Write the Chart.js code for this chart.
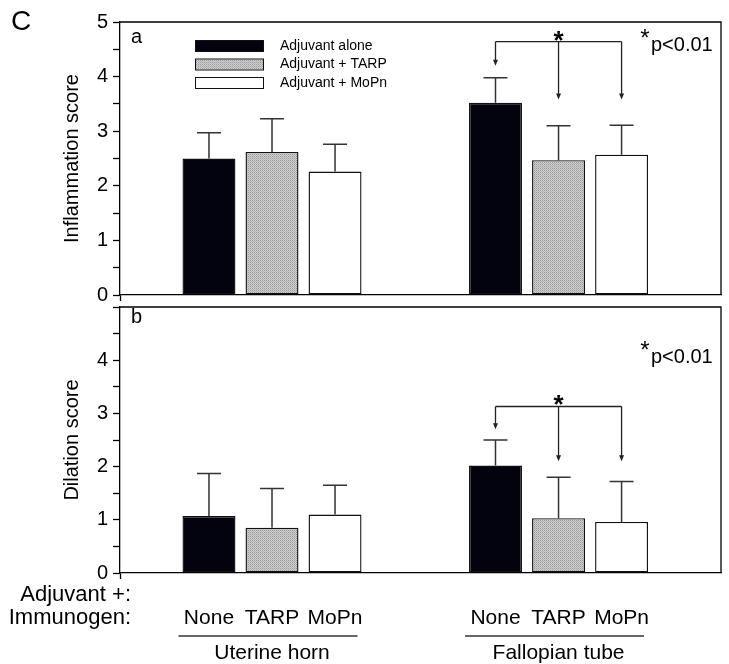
<!DOCTYPE html>
<html>
<head>
<meta charset="utf-8">
<script src="https://cdn.jsdelivr.net/npm/chart.js@4"></script>
<style>
  body { margin: 0; background: #fff; }
  #wrap { position: relative; width: 729px; height: 664px; }
  canvas { position: absolute; left: 0; }
  #topChart { top: 0; }
  #bottomChart { top: 290px; }
</style>
</head>
<body>
<div id="wrap">
  <canvas id="topChart" width="729" height="312"></canvas>
  <canvas id="bottomChart" width="729" height="374"></canvas>
</div>
<script>
const categories = ["Uterine horn", "Fallopian tube"];
const immunogens = ["None", "TARP", "MoPn"];
const seriesLabels = ["Adjuvant alone", "Adjuvant + TARP", "Adjuvant + MoPn"];

// panel a: inflammation score (mean, upper SD)
const inflamNone = [2.50, 3.52];
const inflamTarp = [2.62, 2.47];
const inflamMopn = [2.26, 2.57];
const inflamNoneErr = [0.47, 0.46];
const inflamTarpErr = [0.61, 0.63];
const inflamMopnErr = [0.50, 0.54];

// panel b: dilation score
const dilNone = [1.07, 2.02];
const dilTarp = [0.85, 1.03];
const dilMopn = [1.10, 0.96];
const dilNoneErr = [0.80, 0.48];
const dilTarpErr = [0.74, 0.77];
const dilMopnErr = [0.55, 0.76];

const yTicks = [0, 1, 2, 3, 4, 5];
const pText = "p<0.01";

// bracket for the Fallopian tube comparison: [bracket, first arrow tip, other tips]
const sigTop = [4.64, 4.20, 3.58];
const sigBottom = [3.13, 2.70, 2.10];

const FONT = "'Liberation Sans', Arial, Helvetica, sans-serif";

function hatch() {
  const c = document.createElement("canvas");
  c.width = 2; c.height = 2;
  const g = c.getContext("2d");
  g.fillStyle = "#cfcfcf";
  g.fillRect(0, 0, 2, 2);
  g.fillStyle = "#9a9a9a";
  g.fillRect(0, 0, 1, 1);
  g.fillStyle = "#b4b4b4";
  g.fillRect(1, 1, 1, 1);
  return g.createPattern(c, "repeat");
}
const fills = ["#03030f", hatch(), "#ffffff"];

const errorBars = {
  id: "errorBars",
  afterDatasetsDraw(chart) {
    const ctx = chart.ctx, y = chart.scales.y;
    ctx.save();
    ctx.strokeStyle = "#333";
    ctx.lineWidth = 1.5;
    chart.data.datasets.forEach((ds, k) => {
      chart.getDatasetMeta(k).data.forEach((bar, i) => {
        const top = y.getPixelForValue(ds.data[i].y + ds.errors[i]);
        ctx.beginPath();
        ctx.moveTo(bar.x, bar.y);
        ctx.lineTo(bar.x, top);
        ctx.moveTo(bar.x - 12, top);
        ctx.lineTo(bar.x + 12, top);
        ctx.stroke();
      });
    });
    ctx.restore();
  }
};

function arrowDown(ctx, x, y1, y2) {
  ctx.beginPath();
  ctx.moveTo(x, y1);
  ctx.lineTo(x, y2 - 5);
  ctx.stroke();
  ctx.beginPath();
  ctx.moveTo(x - 2.5, y2 - 6);
  ctx.lineTo(x + 2.5, y2 - 6);
  ctx.lineTo(x, y2);
  ctx.closePath();
  ctx.fill();
}

function extras(cfg) {
  return {
    id: "extras",
    afterDraw(chart) {
      const ctx = chart.ctx, a = chart.chartArea, y = chart.scales.y;
      ctx.save();
      // box
      ctx.strokeStyle = "#000";
      ctx.lineWidth = 1.3;
      ctx.beginPath();
      ctx.moveTo(a.left, a.top);
      ctx.lineTo(a.right, a.top);
      ctx.lineTo(a.right, a.bottom);
      ctx.stroke();

      ctx.fillStyle = "#000";
      ctx.textBaseline = "alphabetic";
      ctx.textAlign = "left";
      ctx.font = "20px " + FONT;
      ctx.fillText(cfg.panel, 131, cfg.panelY);

      // significance note
      ctx.font = "20px " + FONT;
      ctx.fillText(pText, 651, cfg.pY);
      ctx.font = "24px " + FONT;
      ctx.textAlign = "center";
      ctx.fillText("*", 645, cfg.pY - 5);

      // bracket
      const sig = cfg.sig;
      const xs = [0, 1, 2].map(k => chart.getDatasetMeta(k).data[1].x);
      const yb = y.getPixelForValue(sig[0]);
      ctx.strokeStyle = "#222";
      ctx.fillStyle = "#222";
      ctx.lineWidth = 1.3;
      ctx.beginPath();
      ctx.moveTo(xs[0], yb);
      ctx.lineTo(xs[2], yb);
      ctx.stroke();
      arrowDown(ctx, xs[0], yb, y.getPixelForValue(sig[1]));
      arrowDown(ctx, xs[1], yb, y.getPixelForValue(sig[2]));
      arrowDown(ctx, xs[2], yb, y.getPixelForValue(sig[2]));
      ctx.fillStyle = "#000";
      ctx.font = "bold 26px " + FONT;
      ctx.fillText("*", xs[1], yb + 7);

      if (cfg.legend) {
        ctx.font = "14px " + FONT;
        ctx.textAlign = "left";
        ctx.textBaseline = "middle";
        chart.data.datasets.forEach((ds, k) => {
          const ry = 46 + k * 18.5;
          ctx.fillStyle = ds.backgroundColor;
          ctx.fillRect(195, ry - 5, 68, 10);
          ctx.strokeStyle = "#111";
          ctx.lineWidth = 1;
          ctx.strokeRect(195.5, ry - 5.5, 68, 11);
          ctx.fillStyle = "#000";
          ctx.fillText(ds.label, 280, ry);
        });
        ctx.textBaseline = "alphabetic";
        ctx.font = "28px " + FONT;
        ctx.fillText("C", 11, 30);
      }

      if (cfg.axisText) {
        const off = 290;
        ctx.fillStyle = "#000";
        ctx.font = "22px " + FONT;
        ctx.textAlign = "right";
        ctx.fillText("Adjuvant +:", 131, 601 - off);
        ctx.fillText("Immunogen:", 131, 624 - off);
        ctx.textAlign = "center";
        categories.forEach((c, i) => {
          const bars = [0, 1, 2].map(k => chart.getDatasetMeta(k).data[i]);
          ctx.font = "21px " + FONT;
          bars.forEach((b, k) => {
            ctx.fillText(immunogens[k], b.x, 624 - off);
          });
          const l = bars[0].x - bars[0].width / 2 - 4;
          const r = bars[2].x + bars[2].width / 2 - 4;
          ctx.strokeStyle = "#333";
          ctx.lineWidth = 1.5;
          ctx.beginPath();
          ctx.moveTo(l, 636 - off);
          ctx.lineTo(r, 636 - off);
          ctx.stroke();
          ctx.fillText(c, bars[1].x, 659 - off);
        });
      }
      ctx.restore();
    }
  };
}

function makeChart(id, cfg) {
  return new Chart(document.getElementById(id), {
    type: "bar",
    data: {
      datasets: cfg.series.map((vals, k) => ({
        label: seriesLabels[k],
        data: vals.map((v, i) => ({ x: i + 1, y: v })),
        errors: cfg.errors[k],
        backgroundColor: fills[k],
        borderColor: "#111",
        borderWidth: 1.4,
        borderSkipped: false,
        categoryPercentage: 0.66,
        barPercentage: 0.84
      }))
    },
    options: {
      responsive: false,
      animation: false,
      events: [],
      layout: { padding: { top: cfg.padTop, right: 8, left: 0, bottom: 0 } },
      plugins: { legend: { display: false }, tooltip: { enabled: false } },
      scales: {
        x: {
          type: "linear",
          min: 0.4695,
          max: 2.567,
          offset: false,
          afterBuildTicks: s => { s.ticks = [{ value: 1.558 }]; },
          afterFit: s => { s.height = cfg.xHeight; },
          grid: { drawOnChartArea: false, tickLength: 6, tickColor: "#000", tickWidth: 1.3 },
          border: { color: "#000", width: 1.3 },
          ticks: { display: false }
        },
        y: {
          min: 0,
          max: 5,
          afterFit: s => { s.width = 120; },
          afterBuildTicks: s => {
            const t = [];
            yTicks.forEach((v, i) => {
              t.push({ value: v });
              if (i < yTicks.length - 1) t.push({ value: v + 0.5 });
            });
            s.ticks = t;
          },
          ticks: {
            autoSkip: false,
            color: "#000",
            padding: 5,
            font: { size: 20, family: FONT },
            callback: v => (Number.isInteger(v) && cfg.showTick(v)) ? String(v) : ""
          },
          grid: { drawOnChartArea: false, tickLength: 7, tickColor: "#000", tickWidth: 1.3 },
          border: { color: "#000", width: 1.3 },
          title: {
            display: true,
            text: cfg.title,
            color: "#000",
            font: { size: 20, family: FONT },
            padding: { top: 60, bottom: 0 }
          }
        }
      }
    },
    plugins: [errorBars, extras(cfg)]
  });
}

makeChart("topChart", {
  series: [inflamNone, inflamTarp, inflamMopn],
  errors: [inflamNoneErr, inflamTarpErr, inflamMopnErr],
  title: "Inflammation score",
  padTop: 22,
  xHeight: 15,
  showTick: v => true,
  panel: "a",
  panelY: 43,
  pY: 51,
  sig: sigTop,
  legend: true
});

makeChart("bottomChart", {
  series: [dilNone, dilTarp, dilMopn],
  errors: [dilNoneErr, dilTarpErr, dilMopnErr],
  title: "Dilation score",
  padTop: 7,
  xHeight: 91,
  showTick: v => v < 5,
  panel: "b",
  panelY: 323 - 290,
  pY: 363 - 290,
  sig: sigBottom,
  axisText: true
});
</script>
</body>
</html>
